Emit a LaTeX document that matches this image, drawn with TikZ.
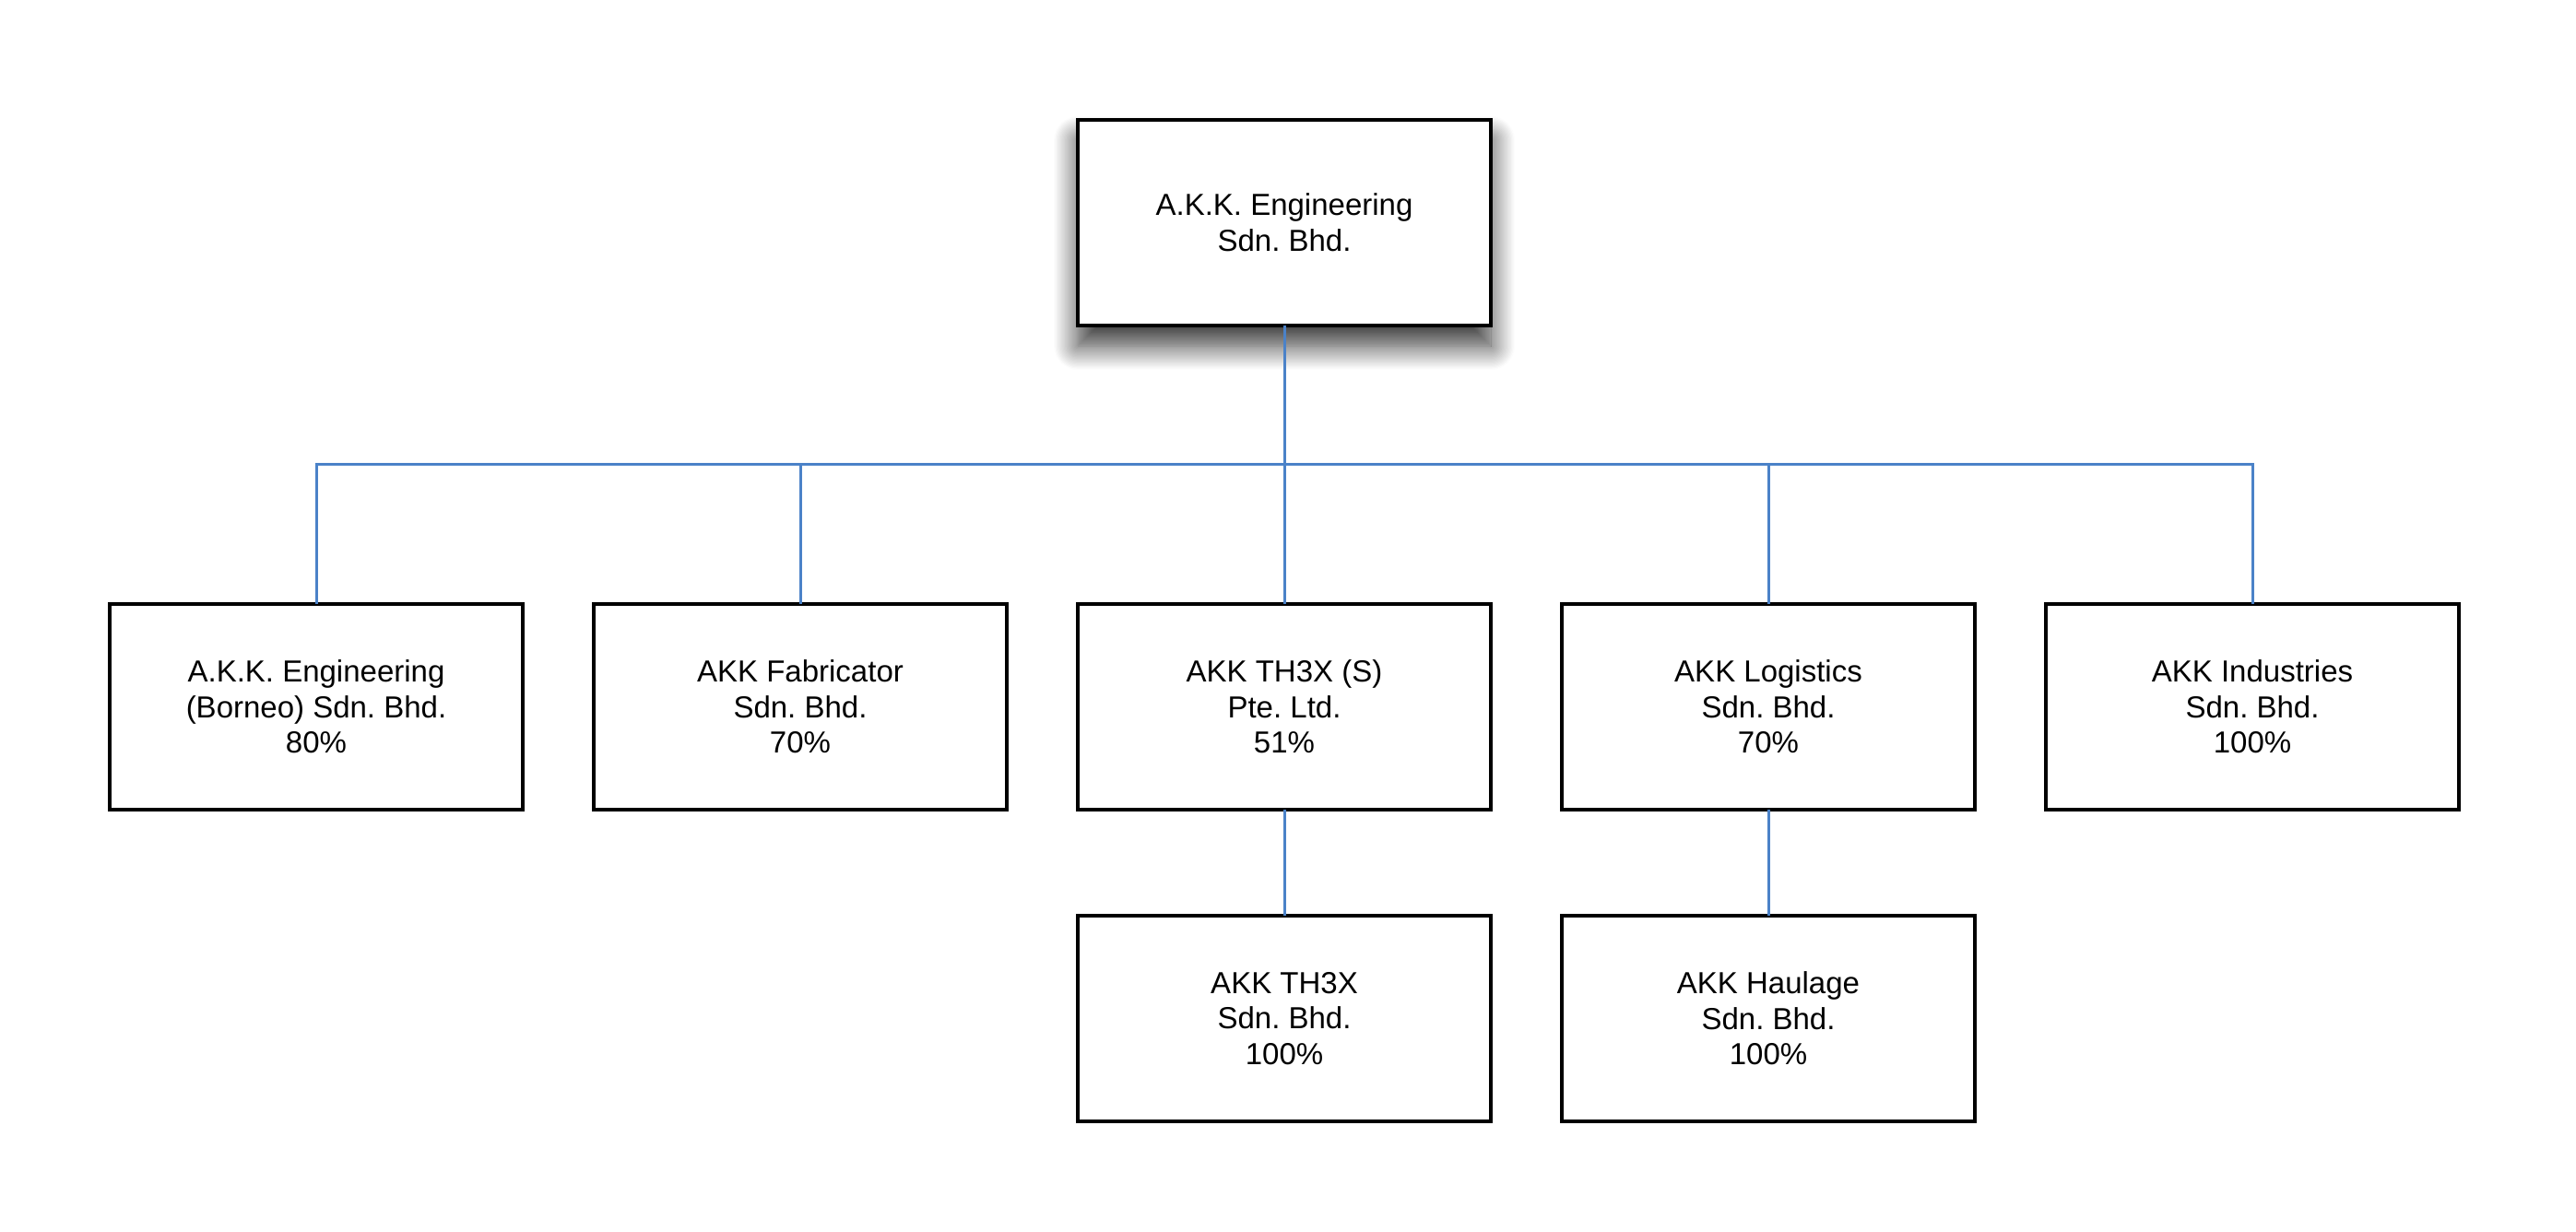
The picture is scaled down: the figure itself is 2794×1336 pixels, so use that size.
\documentclass[tikz,border=0pt]{standalone}
\usepackage{fontspec}
\setmainfont{Liberation Sans}
\frenchspacing
\usetikzlibrary{shadows.blur}
\definecolor{linkblue}{RGB}{75,130,200}
\begin{document}
\begin{tikzpicture}[x=0.5pt,y=-0.5pt,
  orgbox/.style={draw=black, line width=1.75pt, fill=white, minimum width=224pt, minimum height=111.5pt,
    inner sep=0pt, outer sep=0pt, align=center, font=\fontsize{16.5pt}{19.3pt}\selectfont},
  topbox/.style={orgbox, blur shadow={shadow xshift=0pt, shadow yshift=-11pt, shadow blur radius=13pt, shadow blur steps=20, shadow opacity=80}},
  link/.style={draw=linkblue, line width=1.5pt}]
\useasboundingbox (0,0) rectangle (2794,1336);
\node[topbox] (root) at (1393,241.5) {A.K.K. Engineering\\Sdn. Bhd.};
\node[orgbox] (b1) at (343,766.5) {A.K.K. Engineering\\(Borneo) Sdn. Bhd.\\80\%};
\node[orgbox] (b2) at (868,766.5) {AKK Fabricator\\Sdn. Bhd.\\70\%};
\node[orgbox] (b3) at (1393,766.5) {AKK TH3X (S)\\Pte. Ltd.\\51\%};
\node[orgbox] (b4) at (1918,766.5) {AKK Logistics\\Sdn. Bhd.\\70\%};
\node[orgbox] (b5) at (2443,766.5) {AKK Industries\\Sdn. Bhd.\\100\%};
\node[orgbox] (c3) at (1393,1104.5) {AKK TH3X\\Sdn. Bhd.\\100\%};
\node[orgbox] (c4) at (1918,1104.5) {AKK Haulage\\Sdn. Bhd.\\100\%};
\coordinate (bus) at (1393,504);
\draw[link] (root.south) -- (b3.north);
\draw[link] (b1.north) |- (bus) -| (b5.north);
\draw[link] (b2.north) -- (b2.north |- bus);
\draw[link] (b4.north) -- (b4.north |- bus);
\draw[link] (b3.south) -- (c3.north);
\draw[link] (b4.south) -- (c4.north);
\end{tikzpicture}
\end{document}
